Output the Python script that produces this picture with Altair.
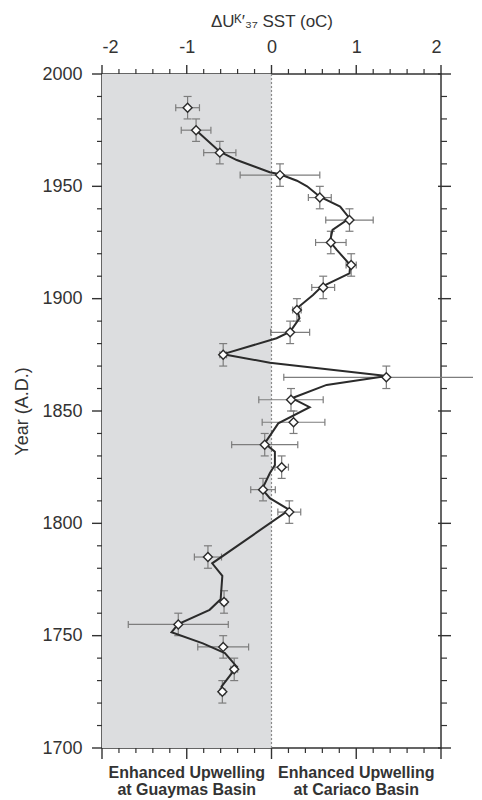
import altair as alt
import pandas as pd

# ---- data ----
pt_year = [1985, 1975, 1965, 1955, 1945, 1935, 1925, 1915, 1905, 1895, 1885, 1875, 1865,
           1855, 1845, 1835, 1825, 1815, 1805, 1785, 1765, 1755, 1745, 1735, 1725]
pt_val = [-0.99, -0.89, -0.61, 0.10, 0.57, 0.92, 0.70, 0.94, 0.61, 0.30, 0.22, -0.57, 1.355,
          0.23, 0.26, -0.08, 0.12, -0.10, 0.21, -0.75, -0.56, -1.10, -0.57, -0.44, -0.58]
pt_xerr = [0.14, 0.175, 0.19, 0.47, 0.135, 0.28, 0.18, 0.06, 0.135, 0.05, 0.23, 0.04, 1.21,
           0.38, 0.37, 0.39, 0.08, 0.145, 0.135, 0.16, 0.03, 0.59, 0.30, 0.04, 0.03]
pt_yerr = [5, 5, 5, 5, 5, 5, 5, 5, 5, 5, 5, 5, 5,
           5, 5, 5, 5, 5, 5, 5, 5, 5, 5, 5, 5]

line_year = [1975, 1965.4, 1961.7, 1956.3, 1955.4, 1952.5, 1950, 1945.4, 1941, 1935.8, 1930.6,
             1925.4, 1921.7, 1915, 1911.3, 1905.3, 1901.6, 1895.7, 1891.3, 1885.3, 1882.4,
             1875.3, 1871.5, 1865.6, 1861.6, 1855.7, 1851.7, 1844.5, 1835.6, 1831.9, 1826,
             1822.3, 1815.2, 1811.2, 1806, 1782.2, 1776.6, 1766.2, 1761.5, 1755.2, 1751.5,
             1746.6, 1742.2, 1736.2, 1727.3, 1725]
line_val = [-0.89, -0.61, -0.41, -0.02, 0.10, 0.30, 0.42, 0.57, 0.81, 0.92, 0.72,
            0.69, 0.77, 0.93, 0.92, 0.59, 0.49, 0.30, 0.33, 0.22, 0.06,
            -0.57, -0.02, 1.36, 0.65, 0.24, 0.45, 0.08, -0.08, 0.04, 0.04,
            -0.02, -0.11, -0.02, 0.21, -0.70, -0.58, -0.60, -0.73, -1.10, -1.18,
            -0.81, -0.55, -0.41, -0.59, -0.59]

x_major = [-2, -1, 0, 1, 2]
x_minor = [-1.8, -1.6, -1.4, -1.2, -0.8, -0.6, -0.4, -0.2, 0.2, 0.4, 0.6, 0.8, 1.2, 1.4, 1.6, 1.8]
y_major = [1700, 1750, 1800, 1850, 1900, 1950, 2000]
y_minor = [1710, 1720, 1730, 1740, 1760, 1770, 1780, 1790, 1810, 1820, 1830, 1840,
           1860, 1870, 1880, 1890, 1910, 1920, 1930, 1940, 1960, 1970, 1980, 1990]

region_x = [-1, 1]
region_text = ["Enhanced Upwelling\nat Guaymas Basin", "Enhanced Upwelling\nat Cariaco Basin"]

x_title = "ΔUᴷ′₃₇ SST (oC)"
y_title = "Year (A.D.)"

# ---- tables ----
pts = pd.DataFrame({"year": pt_year, "val": pt_val, "xerr": pt_xerr, "yerr": pt_yerr})
pts["xlo"] = pts["val"] - pts["xerr"]
pts["xhi"] = pts["val"] + pts["xerr"]
pts["ylo"] = pts["year"] - pts["yerr"]
pts["yhi"] = pts["year"] + pts["yerr"]
line_df = pd.DataFrame({"year": line_year, "val": line_val})
shade_df = pd.DataFrame({"x0": [-2], "x1": [0], "y0": [1700], "y1": [2000]})
zero_df = pd.DataFrame({"val": [0]})
xmaj_df = pd.DataFrame({"val": x_major})
xmin_df = pd.DataFrame({"val": x_minor})
ymaj_df = pd.DataFrame({"year": y_major})
ymin_df = pd.DataFrame({"year": y_minor})
txt_df = pd.DataFrame({"val": region_x, "text": region_text})

W, H = 339, 674
FONT = "Liberation Sans"
TXT = "#333333"
ERR = "#7d7d7d"

xs = alt.Scale(domain=[-2, 2], nice=False, zero=False)
ys = alt.Scale(domain=[1700, 2000], nice=False, zero=False)
xaxis = alt.Axis(orient="top", title=x_title, values=x_major, ticks=False, tickSize=0,
                 domain=False, grid=False, labelPadding=18, titlePadding=8,
                 labelExpr="replace(datum.label, '−', '-')",
                 labelFontSize=18, titleFontSize=17, labelFont=FONT, titleFont=FONT,
                 labelColor=TXT, titleColor=TXT, titleFontWeight="normal")
yaxis = alt.Axis(orient="left", title=y_title, values=y_major, format="d", ticks=False,
                 tickSize=0, domain=False, grid=False, labelPadding=20, titlePadding=10,
                 labelFontSize=18, titleFontSize=18, labelFont=FONT, titleFont=FONT,
                 labelColor=TXT, titleColor=TXT, titleFontWeight="normal")


def X(f):
    return alt.X(f, type="quantitative", scale=xs, axis=xaxis)


def Y(f):
    return alt.Y(f, type="quantitative", scale=ys, axis=yaxis)


shade = alt.Chart(shade_df).mark_rect(color="#dcdddf").encode(
    x=X("x0"), x2="x1", y=Y("y0"), y2="y1")
zero = alt.Chart(zero_df).mark_rule(color="#8a8a8a", strokeDash=[2, 2], strokeWidth=1.2).encode(
    x=X("val"), y=alt.value(0), y2=alt.value(H))

# error bars
hbar = alt.Chart(pts).mark_rule(color=ERR, strokeWidth=1.2).encode(x=X("xlo"), x2="xhi", y=Y("year"))
hcap_l = alt.Chart(pts).mark_rule(color=ERR, strokeWidth=1.2, yOffset=-3.5, y2Offset=3.5).encode(
    x=X("xlo"), y=Y("year"), y2="year")
hcap_r = alt.Chart(pts).mark_rule(color=ERR, strokeWidth=1.2, yOffset=-3.5, y2Offset=3.5).encode(
    x=X("xhi"), y=Y("year"), y2="year")
vbar = alt.Chart(pts).mark_rule(color=ERR, strokeWidth=1.2).encode(x=X("val"), y=Y("ylo"), y2="yhi")
vcap_b = alt.Chart(pts).mark_rule(color=ERR, strokeWidth=1.2, xOffset=-4, x2Offset=4).encode(
    x=X("val"), x2="val", y=Y("ylo"))
vcap_t = alt.Chart(pts).mark_rule(color=ERR, strokeWidth=1.2, xOffset=-4, x2Offset=4).encode(
    x=X("val"), x2="val", y=Y("yhi"))

line = alt.Chart(line_df).mark_line(color="#2b2b2b", strokeWidth=2).encode(
    x=X("val"), y=Y("year"), order=alt.Order("year:Q"))
points = alt.Chart(pts).mark_point(shape="diamond", size=80, filled=True, fill="white",
                                    stroke="#2b2b2b", strokeWidth=1.4, opacity=1).encode(
    x=X("val"), y=Y("year"))

# ticks drawn on all four sides
TC = "#333333"
top_maj = alt.Chart(xmaj_df).mark_rule(color=TC, strokeWidth=1.4).encode(
    x=X("val"), y=alt.value(-9), y2=alt.value(0))
top_min = alt.Chart(xmin_df).mark_rule(color=TC, strokeWidth=1.2).encode(
    x=X("val"), y=alt.value(-5), y2=alt.value(0))
bot_maj = alt.Chart(xmaj_df).mark_rule(color=TC, strokeWidth=1.4).encode(
    x=X("val"), y=alt.value(H), y2=alt.value(H + 11))
bot_min = alt.Chart(xmin_df).mark_rule(color=TC, strokeWidth=1.2).encode(
    x=X("val"), y=alt.value(H), y2=alt.value(H + 5))
left_maj = alt.Chart(ymaj_df).mark_rule(color=TC, strokeWidth=1.4).encode(
    y=Y("year"), x=alt.value(-10), x2=alt.value(0))
left_min = alt.Chart(ymin_df).mark_rule(color=TC, strokeWidth=1.2).encode(
    y=Y("year"), x=alt.value(-5), x2=alt.value(0))
right_maj = alt.Chart(ymaj_df).mark_rule(color=TC, strokeWidth=1.4).encode(
    y=Y("year"), x=alt.value(W - 3), x2=alt.value(W + 10))
right_min = alt.Chart(ymin_df).mark_rule(color=TC, strokeWidth=1.2).encode(
    y=Y("year"), x=alt.value(W), x2=alt.value(W + 6))

labels = alt.Chart(txt_df).mark_text(font=FONT, fontSize=16, fontWeight="bold", color=TXT,
                                     baseline="alphabetic", align="center", lineBreak="\n",
                                     lineHeight=17).encode(
    x=X("val"), y=alt.value(H + 30), text="text:N")

chart = alt.layer(
    shade, zero, hbar, hcap_l, hcap_r, vbar, vcap_b, vcap_t, line, points,
    top_maj, top_min, bot_maj, bot_min, left_maj, left_min, right_maj, right_min, labels
).properties(
    width=W, height=H,
    autosize=alt.AutoSizeParams(type="none"),
    padding={"left": 94, "top": 66, "right": 32, "bottom": 51},
    background="white",
).configure_view(stroke="#333333", strokeWidth=1.5)

chart.save("out.html", embed_options={"renderer": "svg", "actions": False})
